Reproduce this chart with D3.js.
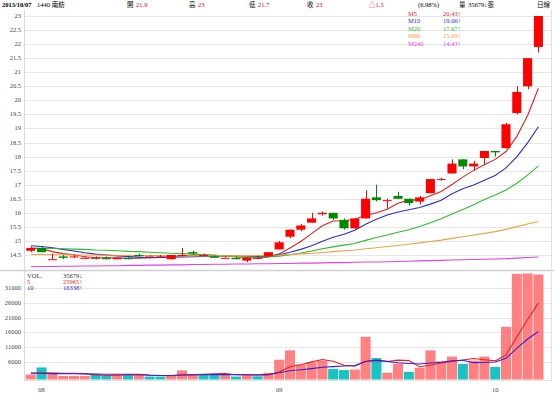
<!DOCTYPE html>
<html><head><meta charset="utf-8">
<script src="https://cdn.jsdelivr.net/npm/d3@7"></script>
<style>
body{margin:0;background:#fff}
svg{display:block}
text{font-family:"Liberation Serif","Noto Sans CJK TC",serif;font-size:6.5px}
</style>
</head><body><svg id="c" width="554" height="397"></svg>
<script>
const dates = ["07/31","08/01","08/02","08/05","08/06","08/07","08/08","08/09","08/12","08/13","08/14","08/15","08/16","08/19","08/20","08/21","08/22","08/23","08/26","08/27","08/28","08/29","08/30",
"09/02","09/03","09/04","09/05","09/06","09/09","09/10","09/11","09/12","09/13","09/14","09/16","09/17","09/18","09/23","09/24","09/25","09/26","09/27","09/30",
"10/01","10/02","10/03","10/04","10/07"];
const openP  = [14.65,14.75,14.35,14.45,14.45,14.4,14.4,14.4,14.35,14.4,14.5,14.45,14.45,14.35,14.5,14.6,14.5,14.45,14.4,14.4,14.3,14.4,14.45,14.7,15.15,15.4,15.65,15.95,16.0,15.75,15.45,15.8,16.55,16.45,16.6,16.5,16.4,16.7,17.2,17.4,17.9,17.65,17.95,18.2,18.3,19.55,20.5,21.9];
const highP  = [14.8,14.8,14.55,14.5,14.5,14.45,14.45,14.45,14.4,14.45,14.55,14.5,14.5,14.5,14.75,14.65,14.55,14.5,14.45,14.45,14.4,14.45,14.6,15.0,15.4,15.6,16.0,16.05,16.0,15.8,15.8,16.8,17.0,16.5,16.75,16.5,16.6,17.2,17.25,17.9,17.9,17.85,18.2,18.2,19.2,20.5,21.5,23];
const lowP   = [14.6,14.6,14.35,14.35,14.4,14.4,14.35,14.35,14.35,14.35,14.45,14.45,14.4,14.35,14.45,14.5,14.45,14.4,14.4,14.35,14.25,14.35,14.45,14.7,15.1,15.35,15.65,15.9,15.75,15.4,15.4,15.8,16.4,16.15,16.5,16.25,16.3,16.7,17.15,17.4,17.55,17.5,17.7,18.0,18.3,19.5,20.4,21.7];
const closeP = [14.75,14.6,14.35,14.4,14.45,14.4,14.4,14.35,14.4,14.35,14.45,14.45,14.45,14.5,14.5,14.55,14.5,14.4,14.4,14.35,14.4,14.4,14.6,14.95,15.4,15.55,15.8,16.0,15.8,15.45,15.8,16.5,16.45,16.45,16.5,16.35,16.55,17.2,17.2,17.75,17.65,17.75,18.2,18.15,19.15,20.3,21.5,23];
const ma5   = [14.74,14.72,14.62,14.55,14.51,14.44,14.40,14.40,14.40,14.38,14.39,14.40,14.42,14.44,14.47,14.49,14.50,14.49,14.47,14.44,14.41,14.39,14.43,14.54,14.75,14.98,15.26,15.54,15.71,15.72,15.77,15.91,16.00,16.13,16.34,16.45,16.46,16.61,16.76,17.01,17.27,17.51,17.71,17.90,18.18,18.71,19.46,20.43];
const ma10  = [14.83,14.80,14.76,14.70,14.64,14.58,14.53,14.50,14.47,14.45,14.42,14.40,14.41,14.42,14.43,14.44,14.45,14.46,14.46,14.46,14.45,14.45,14.46,14.51,14.60,14.70,14.83,14.99,15.13,15.24,15.38,15.59,15.77,15.92,16.03,16.11,16.19,16.31,16.45,16.68,16.86,16.99,17.16,17.33,17.60,17.99,18.49,19.06];
const ma20  = [14.75,14.74,14.73,14.72,14.71,14.70,14.68,14.67,14.65,14.63,14.62,14.60,14.58,14.56,14.55,14.53,14.51,14.49,14.47,14.45,14.43,14.42,14.44,14.46,14.51,14.57,14.64,14.72,14.79,14.85,14.91,15.02,15.12,15.21,15.31,15.40,15.51,15.65,15.79,15.96,16.12,16.29,16.47,16.63,16.81,17.05,17.34,17.67];
const ma60  = [14.52,14.52,14.51,14.51,14.50,14.50,14.50,14.49,14.49,14.49,14.48,14.48,14.48,14.47,14.47,14.47,14.47,14.47,14.47,14.47,14.47,14.48,14.49,14.50,14.52,14.54,14.56,14.59,14.62,14.65,14.68,14.72,14.76,14.80,14.84,14.88,14.93,14.98,15.03,15.09,15.15,15.21,15.27,15.33,15.41,15.51,15.60,15.69];
const ma240 = [14.08,14.09,14.09,14.10,14.10,14.11,14.11,14.12,14.12,14.13,14.13,14.14,14.14,14.15,14.15,14.16,14.16,14.17,14.17,14.18,14.18,14.19,14.19,14.20,14.20,14.21,14.21,14.22,14.23,14.23,14.24,14.25,14.25,14.26,14.27,14.28,14.29,14.30,14.31,14.32,14.33,14.34,14.35,14.36,14.37,14.39,14.41,14.43];
const volume = [1700,4100,2300,1200,1200,1200,1900,1200,1600,1700,1600,1000,1000,1200,3100,1600,1900,1900,1600,1000,1600,1100,2300,6700,9900,5100,5900,6400,3600,3200,3400,14500,7300,2300,5400,2600,4000,9900,6200,7800,5300,6400,7800,4300,17900,35900,36050,35679];
const volUp  = [1,0,1,1,1,1,0,0,1,0,1,0,0,1,1,1,0,0,1,0,1,0,1,1,1,1,1,1,0,0,1,1,0,1,1,0,1,1,1,1,0,1,1,0,1,1,1,1];
const volMa5  = [2200,2300,2200,2100,2100,2000,1560,1340,1420,1520,1600,1420,1380,1300,1580,1580,1760,1940,2020,1600,1600,1440,1520,2540,4320,5020,5980,6800,6180,4840,4500,6220,6400,6140,6580,6420,4320,4840,5620,6100,6640,7120,6700,6320,8340,14460,20390,25965];
const volMa10 = [2100,2100,2000,2000,1950,1900,1850,1800,1800,1810,1800,1490,1360,1360,1550,1590,1590,1660,1660,1590,1590,1600,1730,2280,2960,3310,3710,4160,4360,4580,4760,6100,6600,6160,5710,5460,5270,5620,5880,6340,6530,5720,5770,5970,7220,10550,13760,16338];
const priceTicks = [14.5,15,15.5,16,16.5,17,17.5,18,18.5,19,19.5,20,20.5,21,21.5,22,22.5,23];
const volTicks = [6000,11000,16000,21000,26000,31000];
const monthTicks = [["08/01","08"],["09/02","09"],["10/01","10"]];
const maNames = ["M5","M10","M20","M60","M240"];
const maColors = ["#e61e1e","#2b2bd8","#2bbd2b","#f3a03c","#e040e8"];
const maLast = ["20.43↑","19.06↑","17.67↑","15.69↑","14.43↑"];
const header = [
  {t:"2013/10/07",x:2,c:"#000",b:true},{t:"1440 南紡",x:37,c:"#000"},
  {t:"開",x:127,c:"#000"},{t:"21.9",x:136,c:"#e00000"},
  {t:"高",x:189,c:"#000"},{t:"23",x:198,c:"#e00000"},
  {t:"低",x:249,c:"#000"},{t:"21.7",x:258,c:"#e00000"},
  {t:"收",x:307,c:"#000"},{t:"23",x:316,c:"#e00000"},
  {t:"△1.5",x:369,c:"#e00000"},{t:"(6.98%)",x:418,c:"#000"},
  {t:"量",x:459,c:"#000"},{t:"35679↓張",x:468,c:"#000"},
  {t:"日線",x:537,c:"#000"}];

const svg = d3.select("#c");
const L = 25, R = 551;
const x = d3.scaleBand().domain(dates).range([25.4, 543.8]).paddingInner(0.16).paddingOuter(0.08);
const xv = d3.scaleBand().domain(dates).range([25.4, 543.8]).paddingInner(0.07).paddingOuter(0.03);
const cx = d => x(d) + x.bandwidth()/2;
const y = d3.scaleLinear().domain([14.5, 23]).range([255, 16]);
const yv = d3.scaleLinear().domain([0, 31000]).range([379.5, 288.3]);

// grids
svg.append("g").selectAll("line").data(priceTicks).join("line")
  .attr("x1", L).attr("x2", R).attr("y1", d => Math.round(y(d))+0.5).attr("y2", d => Math.round(y(d))+0.5)
  .attr("stroke", "#e6e6e6");
svg.append("g").selectAll("text").data(priceTicks).join("text")
  .attr("x", 21).attr("y", d => y(d)+2).attr("text-anchor","end").attr("fill","#444").text(d => d);
svg.append("g").selectAll("line").data(volTicks).join("line")
  .attr("x1", L).attr("x2", R).attr("y1", d => Math.round(yv(d))+0.5).attr("y2", d => Math.round(yv(d))+0.5)
  .attr("stroke", "#e6e6e6");
svg.append("g").selectAll("text").data(volTicks).join("text")
  .attr("x", 21).attr("y", d => yv(d)+2).attr("text-anchor","end").attr("fill","#444").text(d => d);

// frame
svg.append("line").attr("x1",0).attr("x2",554).attr("y1",270.5).attr("y2",270.5).attr("stroke","#d0d0d0").attr("stroke-width",1.5);
svg.append("line").attr("x1",L-0.5).attr("x2",L-0.5).attr("y1",10).attr("y2",381).attr("stroke","#d8d8d8");
svg.append("line").attr("x1",R+0.5).attr("x2",R+0.5).attr("y1",10).attr("y2",381).attr("stroke","#e0e0e0");
svg.append("line").attr("x1",L).attr("x2",R).attr("y1",380.5).attr("y2",380.5).attr("stroke","#e0e0e0");

// header
svg.append("g").selectAll("text").data(header).join("text")
  .attr("x", d => d.x).attr("y", 7).attr("fill", d => d.c)
  .attr("font-weight", d => d.b ? "bold" : null).text(d => d.t);

// MA lines (main)
const maSeries = [ma5, ma10, ma20, ma60, ma240];
const gMain = svg.append("g");
maSeries.forEach((s, k) => {
  gMain.append("path").datum(s)
    .attr("fill","none").attr("stroke", maColors[k]).attr("stroke-width", 1.1)
    .attr("d", d3.line().x((v,i) => cx(dates[i])).y(v => y(v)));
});

// candles
const cd = dates.map((d,i) => ({d, o:openP[i], h:highP[i], l:lowP[i], c:closeP[i]}));
const colorOf = e => e.c >= e.o ? "#ff0000" : "#008a00";
const gc = svg.append("g").selectAll("g").data(cd).join("g");
gc.append("line")
  .attr("x1", e => Math.round(cx(e.d))+0.5).attr("x2", e => Math.round(cx(e.d))+0.5)
  .attr("y1", e => y(e.h)).attr("y2", e => y(e.l)).attr("stroke", colorOf);
gc.append("rect")
  .attr("x", e => x(e.d)).attr("width", x.bandwidth())
  .attr("y", e => y(Math.max(e.o,e.c)))
  .attr("height", e => Math.max(1, Math.abs(y(e.o)-y(e.c))))
  .attr("fill", colorOf);

// legend main
const lg = svg.append("g");
maNames.forEach((n,k) => {
  lg.append("text").attr("x",408).attr("y",16+k*7.4).attr("fill",maColors[k]).text(n);
  lg.append("text").attr("x",443).attr("y",16+k*7.4).attr("fill",maColors[k]).text(maLast[k]);
});

// volume
svg.append("defs").append("clipPath").attr("id","vc").append("rect").attr("x",L).attr("y",272).attr("width",R-L).attr("height",110);
const gv = svg.append("g").attr("clip-path","url(#vc)");
gv.selectAll("rect").data(dates).join("rect")
  .attr("x", d => xv(d)).attr("width", xv.bandwidth())
  .attr("y", (d,i) => yv(volume[i])).attr("height", (d,i) => yv(0) - yv(volume[i]))
  .attr("fill", (d,i) => volUp[i] ? "#ff8080" : "#19c3c3");
gv.append("path").datum(volMa5).attr("fill","none").attr("stroke","#e82020").attr("stroke-width",1.1)
  .attr("d", d3.line().x((v,i) => cx(dates[i])).y(v => yv(v)));
gv.append("path").datum(volMa10).attr("fill","none").attr("stroke","#3b22d0").attr("stroke-width",1.1)
  .attr("d", d3.line().x((v,i) => cx(dates[i])).y(v => yv(v)));

// volume legend
const vl = [["VOL.","35679↓","#333"],["5","25965↑","#e82020"],["10","16338↑","#3b22d0"]];
vl.forEach((r,k) => {
  svg.append("text").attr("x",27).attr("y",278+k*6).attr("fill",r[2]).text(r[0]);
  svg.append("text").attr("x",63).attr("y",278+k*6).attr("fill",r[2]).text(r[1]);
});

// x labels
svg.append("g").selectAll("text").data(monthTicks).join("text")
  .attr("x", d => cx(d[0])).attr("y", 392).attr("text-anchor","middle").attr("fill","#444").text(d => d[1]);
</script>
</body></html>
